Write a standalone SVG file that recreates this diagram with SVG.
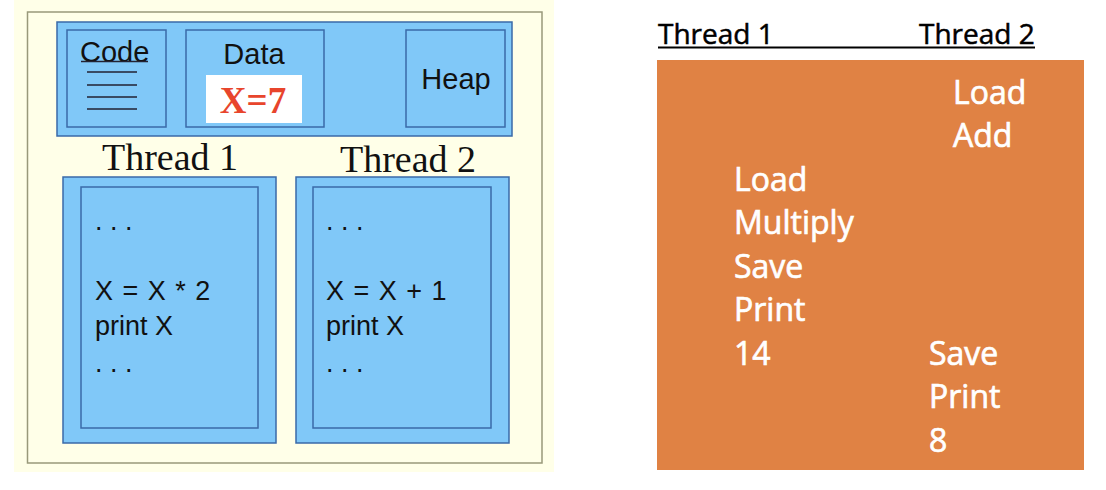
<svg xmlns="http://www.w3.org/2000/svg" width="1106" height="490" viewBox="0 0 1106 490">
<style>
.blue{fill:#80C8F8;stroke:#3A6AA8;stroke-width:1.5}
.sans{font-family:"Liberation Sans",Arial,sans-serif;fill:#111}
.serif{font-family:"Liberation Serif","Times New Roman",serif;fill:#111}
.cal{font-family:"Open Sans","Noto Sans",sans-serif}
.w{fill:#fff;font-size:32px;stroke:#fff;stroke-width:0.7}
.h{font-size:28px;fill:#000;stroke:#000;stroke-width:0.5}
.ln{stroke:#223;stroke-width:1.6}
</style>
<rect width="1106" height="490" fill="#fff"/>
<g id="process">
<rect x="14" y="0" width="540" height="472" fill="#FFFFE8"/>
<rect x="27.5" y="12" width="514.5" height="451" fill="none" stroke="#99997A" stroke-width="1.5"/>
<rect class="blue" x="57" y="22" width="455" height="114"/>
</g>
<g id="code">
<rect class="blue" x="67" y="30" width="99" height="97"/>
<text class="sans" x="80" y="62" font-size="29">Code</text>
<line class="ln" x1="81" y1="61.5" x2="148" y2="61.5" stroke-width="1.2"/>
<line class="ln" x1="87" y1="72" x2="137" y2="72"/>
<line class="ln" x1="87" y1="85" x2="137" y2="85"/>
<line class="ln" x1="87" y1="97" x2="137" y2="97"/>
<line class="ln" x1="87" y1="109" x2="137" y2="109"/>
</g>
<g id="data">
<rect class="blue" x="186" y="30" width="138" height="97"/>
<text class="sans" x="254" y="64" font-size="29" text-anchor="middle">Data</text>
<rect x="206" y="75" width="96" height="48" fill="#fff"/>
<text x="253" y="113" font-family="Liberation Serif,Times New Roman,serif" font-weight="bold" font-size="37" fill="#E8452C" text-anchor="middle">X=7</text>
</g>
<g id="heap">
<rect class="blue" x="406" y="30" width="99" height="97"/>
<text class="sans" x="456" y="89" font-size="29" text-anchor="middle">Heap</text>
</g>
<g id="thread1">
<text class="serif" x="170" y="170" font-size="38" text-anchor="middle">Thread 1</text>
<rect class="blue" x="63" y="177" width="213" height="266"/>
<rect class="blue" x="81" y="187" width="177" height="241"/>
<text class="sans" x="95" y="230" font-size="27">. . .</text>
<text class="sans" x="95" y="300" font-size="27" word-spacing="2">X = X * 2</text>
<text class="sans" x="95" y="335" font-size="27">print X</text>
<text class="sans" x="95" y="372" font-size="27">. . .</text>
</g>
<g id="thread2">
<text class="serif" x="408" y="172" font-size="38" text-anchor="middle">Thread 2</text>
<rect class="blue" x="296" y="177" width="213" height="266"/>
<rect class="blue" x="313" y="187" width="178" height="241"/>
<text class="sans" x="326" y="230" font-size="27">. . .</text>
<text class="sans" x="326" y="300" font-size="27" word-spacing="2">X = X + 1</text>
<text class="sans" x="326" y="335" font-size="27">print X</text>
<text class="sans" x="326" y="372" font-size="27">. . .</text>
</g>
<g id="timeline">
<text class="cal h" x="658" y="44">Thread 1</text>
<text class="cal h" x="919" y="44">Thread 2</text>
<line x1="658" y1="47.5" x2="1035" y2="47.5" stroke="#000" stroke-width="1.8"/>
<rect x="657" y="60" width="427" height="410" fill="#E08244"/>
<text class="cal w" x="953" y="104">Load</text>
<text class="cal w" x="953" y="147">Add</text>
<text class="cal w" x="734" y="191">Load</text>
<text class="cal w" x="734" y="234">Multiply</text>
<text class="cal w" x="734" y="278">Save</text>
<text class="cal w" x="734" y="321">Print</text>
<text class="cal w" x="734" y="365">14</text>
<text class="cal w" x="929" y="365">Save</text>
<text class="cal w" x="929" y="408">Print</text>
<text class="cal w" x="929" y="452">8</text>
</g>
</svg>
